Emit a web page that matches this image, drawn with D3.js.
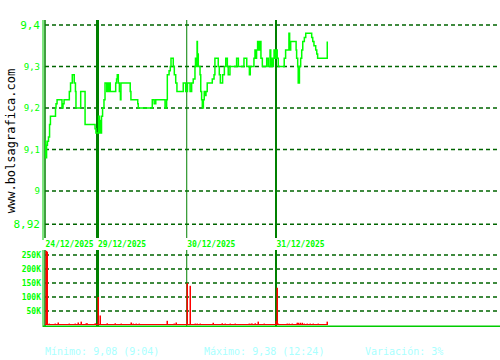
<!DOCTYPE html>
<html>
<head>
<meta charset="utf-8">
<script src="https://cdn.jsdelivr.net/npm/d3@7"></script>
<style>
  body { margin: 0; background: #fff; }
  svg { display: block; }
</style>
</head>
<body>
<script>
const W = 500, H = 360

// trading-minute index (24/12 half session, 29/12, 30/12, 31/12 half session) and price
const priceMin = [
  0, 4, 9, 14, 20, 26, 31, 60, 63, 69, 97, 103, 109, 139, 146, 156, 167, 174, 177, 204, 229, 286, 291,
  301, 307, 311, 316, 320, 323, 329, 337, 343, 353, 356, 360, 366, 373, 404, 409, 413, 419, 425, 431, 434,
  487, 491, 530, 533, 613, 624, 633, 686, 695, 699, 709, 716, 720, 733, 739, 747, 754, 790, 804,
  814, 829, 838, 847, 857, 860, 863, 869, 871, 876, 886, 890, 895, 899, 905, 910, 914, 920, 927, 956, 966,
  971, 990, 996, 1002, 1015, 1025, 1033, 1042, 1047, 1057, 1095, 1105, 1137, 1153, 1168, 1173, 1194, 1200,
  1204, 1209, 1215, 1223, 1229, 1234, 1242, 1267, 1276, 1286, 1290, 1294, 1299, 1305, 1309, 1314,
  1322, 1327, 1333, 1367, 1375, 1394, 1398, 1404, 1435, 1438, 1444, 1447, 1454, 1461, 1467, 1473, 1482,
  1490, 1524, 1530, 1537, 1547, 1553, 1558, 1613
]
const price = [
  9.12, 9.08, 9.11, 9.12, 9.13, 9.16, 9.18, 9.20, 9.21, 9.22, 9.20, 9.21, 9.22, 9.24, 9.26, 9.28, 9.26, 9.24, 9.20, 9.24, 9.16, 9.15, 9.14,
  9.14, 9.18, 9.14, 9.17, 9.14, 9.18, 9.20, 9.22, 9.26, 9.24, 9.26, 9.24, 9.26, 9.24, 9.26, 9.27, 9.28, 9.26, 9.24, 9.22, 9.26,
  9.24, 9.22, 9.21, 9.20, 9.22, 9.21, 9.22, 9.20, 9.22, 9.28, 9.29, 9.30, 9.32, 9.30, 9.28, 9.26, 9.24, 9.26, 9.24,
  9.26, 9.24, 9.26, 9.27, 9.30, 9.32, 9.30, 9.36, 9.33, 9.30, 9.28, 9.24, 9.22, 9.20, 9.22, 9.24, 9.23, 9.24, 9.26, 9.27, 9.28,
  9.32, 9.30, 9.28, 9.26, 9.28, 9.30, 9.32, 9.30, 9.28, 9.30, 9.32, 9.30, 9.32, 9.30, 9.28, 9.30, 9.32, 9.34,
  9.32, 9.34, 9.36, 9.34, 9.36, 9.32, 9.30, 9.32, 9.30, 9.34, 9.30, 9.32, 9.30, 9.32, 9.34, 9.32,
  9.34, 9.32, 9.30, 9.32, 9.34, 9.38, 9.34, 9.36, 9.34, 9.32, 9.30, 9.26, 9.30, 9.32, 9.34, 9.36, 9.37,
  9.38, 9.37, 9.36, 9.35, 9.34, 9.33, 9.32, 9.36
]

const volMin = [
  4, 13, 21, 57, 72, 139, 171, 187, 206, 234, 240, 283,
  301, 314, 352, 400, 434, 494, 503, 522, 537, 695, 737, 746,
  813, 829, 857, 866, 886, 962, 1010, 1026, 1055, 1086, 1168, 1177, 1185, 1200, 1219, 1250,
  1320, 1324, 1330, 1384, 1395, 1410, 1441, 1448, 1460, 1470, 1480, 1499, 1515, 1530, 1560, 1613
]
const volume = [
  265000, 262000, 5000, 5000, 9000, 5000, 5000, 9000, 12000, 6000, 6000, 6000,
  100000, 34000, 6000, 6000, 5000, 9000, 5000, 5000, 5000, 15000, 5000, 9000,
  149000, 140000, 5000, 5000, 5000, 8000, 6000, 5000, 5000, 5000, 5000, 5000, 5000, 6000, 12000, 5000,
  15000, 133000, 5000, 5000, 5000, 5000, 8000, 8000, 8000, 8000, 5000, 5000, 5000, 5000, 5000, 12000
]

const dayLabels = ['24/12/2025', '29/12/2025', '30/12/2025', '31/12/2025']
const dayStart = [0, 300, 810, 1320]
const dayLineWidth = [1.5, 3, 1, 2]

const priceTicks = [9.4, 9.3, 9.2, 9.1, 9.0, 8.92]
const priceTickLabels = ['9,4', '9,3', '9,2', '9,1', '9', '8,92']
const volTicks = [250000, 200000, 150000, 100000, 50000]
const volTickLabels = ['250K', '200K', '150K', '100K', '50K']

const stats = ['Mínimo: 9,08 (9:04)', 'Máximo: 9,38 (12:24)', 'Variación: 3%']

const mono = "'DejaVu Sans Mono', monospace"

const svg = d3.select('body').append('svg')
    .attr('width', W)
    .attr('height', H)

const x = d3.scaleLinear().domain([0, 2583]).range([45, 497])
const yP = d3.scaleLinear().domain([8.92, 9.4]).range([224.2, 25])
const yV = d3.scaleLinear().domain([0, 250000]).range([325, 255])

// grids
svg.append('g').selectAll('line').data(priceTicks).enter().append('line')
    .attr('x1', 45).attr('x2', 497)
    .attr('y1', d => yP(d)).attr('y2', d => yP(d))
    .attr('stroke', '#006400').attr('stroke-width', 1.5)
    .attr('stroke-dasharray', '4,3')
svg.append('g').selectAll('line').data(volTicks).enter().append('line')
    .attr('x1', 45).attr('x2', 497)
    .attr('y1', d => yV(d)).attr('y2', d => yV(d))
    .attr('stroke', '#006400').attr('stroke-width', 1.5)
    .attr('stroke-dasharray', '4,3')

// day separators, in both panels
dayStart.forEach((m, i) => {
  [[20, 238], [250, 326]].forEach(r => {
    svg.append('line')
        .attr('x1', x(m)).attr('x2', x(m))
        .attr('y1', r[0]).attr('y2', r[1])
        .attr('stroke', '#008000')
        .attr('stroke-width', dayLineWidth[i])
  })
  svg.append('text')
      .attr('x', x(m) + 0.5)
      .attr('y', 247)
      .attr('font-family', mono)
      .attr('font-size', '8px')
      .attr('font-weight', 'bold')
      .attr('fill', '#00ff00')
      .text(dayLabels[i])
})

// axes lines
svg.append('line').attr('x1', 43).attr('x2', 43).attr('y1', 20).attr('y2', 240)
    .attr('stroke', '#00cc00').attr('stroke-width', 1)
svg.append('line').attr('x1', 43).attr('x2', 43).attr('y1', 250).attr('y2', 327)
    .attr('stroke', '#00cc00').attr('stroke-width', 1)

svg.append('line').attr('x1', 43).attr('x2', 500).attr('y1', 326.3).attr('y2', 326.3)
    .attr('stroke', '#00cc00').attr('stroke-width', 1.5)

// price line
const pts = priceMin.map((m, i) => [m, price[i]])
const line = d3.line()
    .x(d => x(d[0]))
    .y(d => yP(d[1]))
    .curve(d3.curveStepAfter)
svg.append('path')
    .datum(pts)
    .attr('d', line)
    .attr('fill', 'none')
    .attr('stroke', '#00ff00')
    .attr('stroke-width', 1.5)

// y axis labels
const pAxis = svg.append('g')
    .attr('transform', 'translate(43,0)')
    .call(d3.axisLeft(yP).tickValues(priceTicks).tickSize(0).tickPadding(3)
      .tickFormat((d, i) => priceTickLabels[i]))
pAxis.select('.domain').remove()
pAxis.selectAll('text')
    .attr('font-family', mono)
    .attr('fill', '#00ff00')
    .attr('font-size', (d, i) => (i == 0 || i == priceTicks.length - 1) ? '11px' : '9px')

const vAxis = svg.append('g')
    .attr('transform', 'translate(43,0)')
    .call(d3.axisLeft(yV).tickValues(volTicks).tickSize(0).tickPadding(2)
      .tickFormat((d, i) => volTickLabels[i]))
vAxis.select('.domain').remove()
vAxis.selectAll('text')
    .attr('font-family', mono)
    .attr('font-weight', 'bold')
    .attr('fill', '#00ff00')
    .attr('font-size', '8px')

// watermark
svg.append('text')
    .attr('transform', 'translate(15,141) rotate(-90)')
    .attr('text-anchor', 'middle')
    .attr('font-family', mono)
    .attr('font-size', '12px')
    .attr('fill', '#000')
    .text('www.bolsagrafica.com')

// footer
const statX = [45, 204, 365]
stats.forEach((s, i) => {
  svg.append('text')
      .attr('x', statX[i])
      .attr('y', 355)
      .attr('font-family', mono)
      .attr('font-size', '10px')
      .attr('fill', '#aaffff')
      .text(s)
})

// volume bars, painted last so they sit over the day separators
const volG = svg.append('g')
volG.append('line')
    .attr('x1', x(priceMin[0])).attr('x2', x(priceMin[priceMin.length - 1]))
    .attr('y1', yV(0) - 0.5).attr('y2', yV(0) - 0.5)
    .attr('stroke', '#ff0000').attr('stroke-width', 1)
volG.selectAll('rect').data(volMin).enter().append('rect')
    .attr('x', d => Math.round(x(d)) - 0.5)
    .attr('width', 1.5)
    .attr('y', (d, i) => yV(volume[i]))
    .attr('height', (d, i) => yV(0) - yV(volume[i]))
    .attr('fill', '#ff0000')
</script>
</body>
</html>
